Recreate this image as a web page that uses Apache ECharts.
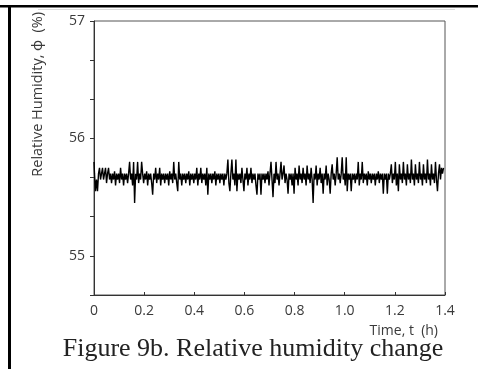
<!DOCTYPE html>
<html>
<head>
<meta charset="utf-8">
<script src="https://cdn.jsdelivr.net/npm/echarts@6/dist/echarts.min.js"></script>
<style>
html,body{margin:0;padding:0;background:#fff;}
#chart{width:478px;height:369px;}
</style>
</head>
<body>
<div id="chart"></div>
<script>
// Sample step (h) between recorded humidity readings
var timeStep = 0.004;
// Relative humidity readings (%)
var humidity = [
55.8,55.7,55.55,55.65,55.55,55.7,55.75,55.65,55.7,55.75,
55.65,55.7,55.75,55.62,55.7,55.75,55.65,55.7,55.62,55.7,
55.65,55.72,55.6,55.7,55.65,55.7,55.62,55.75,55.65,55.7,
55.6,55.7,55.65,55.7,55.62,55.7,55.8,55.65,55.7,55.6,
55.8,55.45,55.7,55.65,55.8,55.62,55.7,55.65,55.8,55.7,
55.62,55.7,55.65,55.72,55.6,55.7,55.65,55.7,55.62,55.52,
55.7,55.65,55.75,55.62,55.7,55.65,55.75,55.6,55.7,55.65,
55.7,55.62,55.7,55.65,55.7,55.6,55.72,55.65,55.7,55.62,
55.8,55.65,55.7,55.62,55.55,55.8,55.65,55.7,55.6,55.7,
55.65,55.7,55.62,55.7,55.65,55.72,55.6,55.7,55.65,55.7,
55.62,55.7,55.65,55.75,55.6,55.7,55.65,55.75,55.62,55.7,
55.65,55.7,55.6,55.75,55.52,55.7,55.65,55.7,55.62,55.7,
55.65,55.72,55.6,55.7,55.65,55.7,55.62,55.7,55.65,55.7,
55.6,55.7,55.65,55.7,55.82,55.62,55.55,55.7,55.82,55.65,
55.7,55.6,55.82,55.55,55.7,55.65,55.7,55.62,55.75,55.65,
55.55,55.7,55.65,55.75,55.6,55.7,55.65,55.75,55.62,55.7,
55.65,55.7,55.6,55.52,55.7,55.65,55.7,55.52,55.7,55.65,
55.7,55.62,55.7,55.65,55.72,55.6,55.7,55.8,55.65,55.5,
55.7,55.62,55.8,55.65,55.7,55.6,55.7,55.8,55.65,55.7,
55.77,55.62,55.7,55.65,55.53,55.7,55.65,55.7,55.6,55.7,
55.53,55.75,55.65,55.7,55.6,55.77,55.65,55.7,55.62,55.75,
55.65,55.7,55.6,55.77,55.65,55.7,55.62,55.75,55.65,55.45,
55.7,55.65,55.77,55.6,55.7,55.65,55.75,55.62,55.7,55.53,
55.7,55.65,55.77,55.6,55.7,55.65,55.53,55.7,55.78,55.65,
55.7,55.6,55.7,55.84,55.65,55.7,55.62,55.7,55.84,55.65,
55.7,55.6,55.84,55.55,55.7,55.65,55.7,55.55,55.7,55.65,
55.7,55.62,55.7,55.65,55.8,55.6,55.7,55.65,55.8,55.62,
55.7,55.65,55.7,55.6,55.72,55.65,55.7,55.62,55.7,55.65,
55.7,55.6,55.7,55.65,55.72,55.62,55.7,55.65,55.7,55.53,
55.7,55.65,55.7,55.53,55.7,55.65,55.7,55.78,55.62,55.7,
55.65,55.8,55.6,55.7,55.55,55.78,55.65,55.7,55.62,55.8,
55.65,55.7,55.6,55.78,55.65,55.7,55.62,55.82,55.65,55.7,
55.6,55.78,55.65,55.7,55.62,55.8,55.65,55.7,55.6,55.78,
55.65,55.7,55.62,55.82,55.65,55.7,55.6,55.78,55.65,55.7,
55.62,55.8,55.65,55.55,55.7,55.78,55.65,55.75,55.7,55.75
];
var xTicks = [0, 0.2, 0.4, 0.6, 0.8, 1.0, 1.2, 1.4];
var yLabels = [55, 56, 57];
var xTitle = 'Time, t  (h)';
var yTitle = 'Relative Humidity, \u03D5  (%)';
var caption = 'Figure 9b. Relative humidity change';

var seriesData = humidity.map(function (v, i) { return [i * timeStep, v]; });

var chart = echarts.init(document.getElementById('chart'), null, {renderer: 'canvas'});
var labelFont = '"Open Sans", Lato, sans-serif';
chart.setOption({
  animation: false,
  backgroundColor: '#fff',
  grid: {left: 94, right: 33, top: 21, bottom: 74, show: true, borderColor: '#555', borderWidth: 1, backgroundColor: 'transparent'},
  xAxis: {
    type: 'value', min: 0, max: 1.4, interval: 0.2,
    axisLine: {show: true, lineStyle: {color: '#333', width: 1}},
    axisTick: {show: true, inside: true, length: 3, lineStyle: {color: '#333'}},
    axisLabel: {color: '#3a3a3a', fontSize: 14, fontFamily: labelFont, margin: 9,
      formatter: function (v) {
        for (var k = 0; k < xTicks.length; k++) {
          if (Math.abs(v - xTicks[k]) < 1e-6) return xTicks[k] === 0 ? '0' : xTicks[k].toFixed(1);
        }
        return '';
      }},
    splitLine: {show: false}
  },
  yAxis: {
    type: 'value', min: 164 / 3, max: 57, interval: 1 / 3,
    axisLine: {show: true, lineStyle: {color: '#333', width: 1}},
    axisTick: {show: true, inside: false, length: 4, lineStyle: {color: '#333'}},
    axisLabel: {color: '#3a3a3a', fontSize: 14, fontFamily: labelFont, margin: 9, showMaxLabel: true,
      formatter: function (v) {
        for (var k = 0; k < yLabels.length; k++) {
          if (Math.abs(v - yLabels[k]) < 1e-3) return String(yLabels[k]);
        }
        return '';
      }},
    splitLine: {show: false}
  },
  series: [{
    type: 'line', data: seriesData, step: 'middle', showSymbol: false, symbol: 'none',
    lineStyle: {color: '#000', width: 1.4}
  }],
  graphic: [
    {type: 'rect', shape: {x: 0, y: 5, width: 478, height: 2.5}, style: {fill: '#000'}, silent: true},
    {type: 'rect', shape: {x: 8, y: 6, width: 3, height: 363}, style: {fill: '#000'}, silent: true},
    {type: 'line', shape: {x1: 38, y1: 9.5, x2: 455, y2: 9.5}, style: {stroke: '#dcdcdc', lineWidth: 1}, silent: true},
    {type: 'text', x: 38, y: 12, rotation: Math.PI / 2,
      style: {text: yTitle, fill: '#3a3a3a', font: '14.5px ' + labelFont, textAlign: 'right', textVerticalAlign: 'middle'}},
    {type: 'text', x: 438, y: 331,
      style: {text: xTitle, fill: '#3a3a3a', font: '14px ' + labelFont, textAlign: 'right', textVerticalAlign: 'middle'}},
    {type: 'text', x: 253, y: 349,
      style: {text: caption, fill: '#222', font: '26px "Liberation Serif", "Times New Roman", serif', textAlign: 'center', textVerticalAlign: 'middle'}}
  ]
});
</script>
</body>
</html>
